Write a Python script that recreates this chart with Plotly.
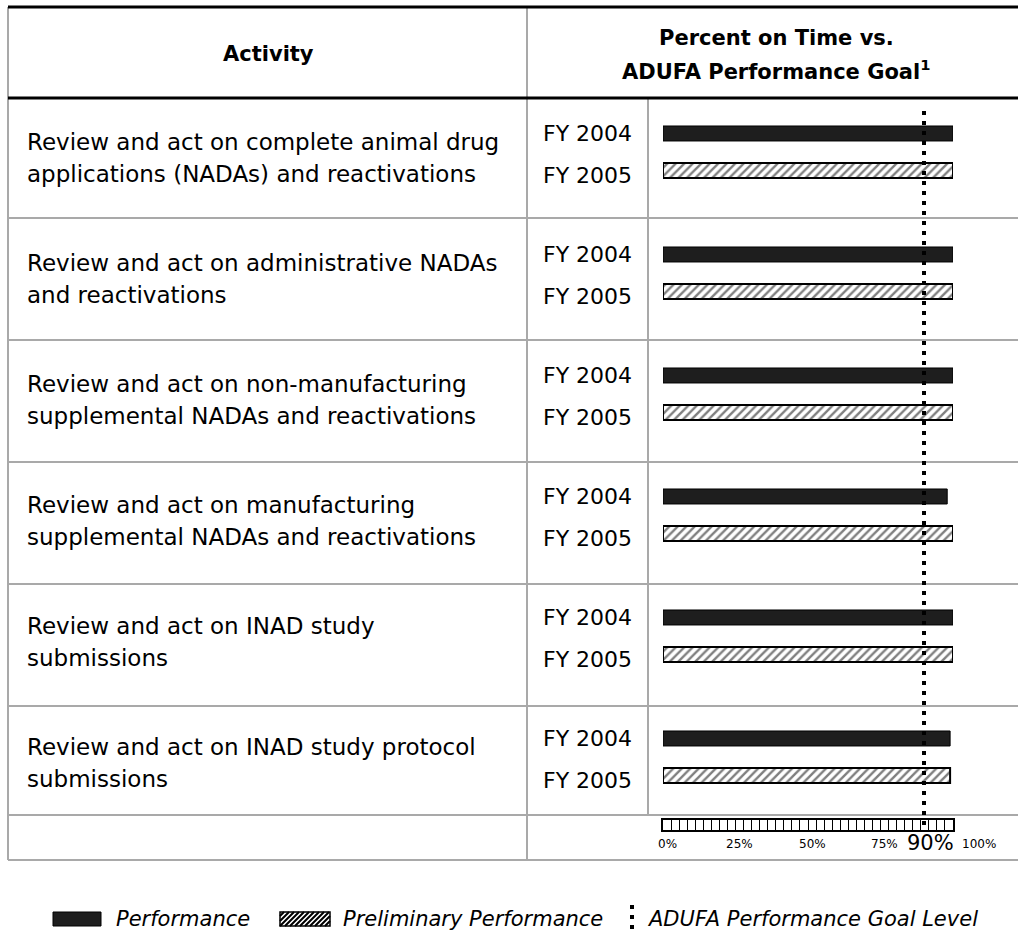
import plotly.graph_objects as go

W, H = 1018, 930

# ---- data -----------------------------------------------------------------
activities = [
    "Review and act on complete animal drug<br>applications (NADAs) and reactivations",
    "Review and act on administrative NADAs<br>and reactivations",
    "Review and act on non-manufacturing<br>supplemental NADAs and reactivations",
    "Review and act on manufacturing<br>supplemental NADAs and reactivations",
    "Review and act on INAD study<br>submissions",
    "Review and act on INAD study protocol<br>submissions",
]
fiscal_years = ["FY 2004", "FY 2005"]
performance_fy2004 = [100, 100, 100, 98, 100, 99]
preliminary_fy2005 = [100, 100, 100, 100, 100, 99]
goal_level = 90
scale_ticks = [0, 25, 50, 75, 90, 100]
scale_labels = ["0%", "25%", "50%", "75%", "90%", "100%"]
legend_labels = ["Performance", "Preliminary Performance", "ADUFA Performance Goal Level"]


# ---- helpers: page pixels -> paper fractions ------------------------------
def px(x):
    return x / W


def py(y):
    return 1 - y / H


FONT = "DejaVu Sans"
GRID = "#a9a9a9"
DOT_DASH = "4px,6px"

fig = go.Figure()

fig.add_trace(go.Bar(
    name=legend_labels[0], orientation="h",
    x=performance_fy2004, y=activities,
    marker=dict(color="#1e1e1e", line=dict(color="black", width=1)),
    showlegend=False, hoverinfo="x",
))
fig.add_trace(go.Bar(
    name=legend_labels[1], orientation="h",
    x=preliminary_fy2005, y=activities,
    marker=dict(color="white", line=dict(color="black", width=2),
                pattern=dict(shape="/", fgcolor="black", bgcolor="white",
                             size=6, solidity=0.4)),
    showlegend=False, hoverinfo="x",
))

shapes = []
annotations = []


def hline(y, x0, x1, color=GRID, width=2):
    shapes.append(dict(type="line", xref="paper", yref="paper",
                       x0=px(x0), x1=px(x1), y0=py(y), y1=py(y),
                       line=dict(color=color, width=width)))


def vline(x, y0, y1, color=GRID, width=2):
    shapes.append(dict(type="line", xref="paper", yref="paper",
                       x0=px(x), x1=px(x), y0=py(y0), y1=py(y1),
                       line=dict(color=color, width=width)))


def label(text, x, y, size, xanchor="center", xref="paper", yref="paper",
          xshift=0, yshift=0):
    annotations.append(dict(text=text, xref=xref, yref=yref, x=x, y=y,
                            xanchor=xanchor, yanchor="middle", showarrow=False,
                            xshift=xshift, yshift=yshift,
                            font=dict(size=size, family=FONT, color="black")))


# ---- table grid -----------------------------------------------------------
for y in [218, 340, 462, 584, 706, 815, 860]:
    hline(y, 8, W)
vline(8, 7, 860)
vline(527, 7, 860)
vline(648, 98, 815)
hline(7, 8, W, color="black", width=3)
hline(98, 8, W, color="black", width=3)

# ---- goal line ------------------------------------------------------------
shapes.append(dict(type="line", xref="x", yref="paper",
                   x0=goal_level, x1=goal_level, y0=py(111), y1=py(827),
                   line=dict(color="black", width=4, dash=DOT_DASH),
                   layer="above"))

# ---- header ---------------------------------------------------------------
label("<b>Activity</b>", px(268), py(54), 21)
label("<b>Percent on Time vs.</b>", px(776), py(38), 21)
label("<b>ADUFA Performance Goal<sup>1</sup></b>", px(776), py(70), 21)

# ---- activity text and fiscal year labels ---------------------------------
for act in activities:
    lines = act.split("<br>")
    for j, line in enumerate(lines):
        label(line, px(25), act, 23, xanchor="left", yref="y",
              yshift=10 if j == 0 else -22)
    for k, fy in enumerate(fiscal_years):
        label(fy, px(541), act, 22, xanchor="left", yref="y",
              yshift=19 if k == 0 else -23)

# ---- percent scale labels -------------------------------------------------
for val, lab in zip(scale_ticks, scale_labels):
    big = val == goal_level
    shift = 26 if val == 100 else (6 if big else 4)
    label(lab, val, py(843 if big else 844), 21 if big else 12, xref="x2",
          xshift=shift)

# ---- legend ---------------------------------------------------------------
ly = 919
ltop, lbot = 912, 926
shapes.append(dict(type="rect", xref="paper", yref="paper",
                   x0=px(53), x1=px(101), y0=py(lbot), y1=py(ltop),
                   fillcolor="#1e1e1e", line=dict(color="black", width=1)))
label("<i>" + legend_labels[0] + "</i>", px(114), py(ly), 21, xanchor="left")

hx0, hx1 = 280, 330
shapes.append(dict(type="rect", xref="paper", yref="paper",
                   x0=px(hx0), x1=px(hx1), y0=py(lbot), y1=py(ltop),
                   fillcolor="white", line=dict(color="black", width=1.5)))
path = ""
c = hx0 + ltop + 4
while c < hx1 + lbot:
    # segment of x + y = c clipped to the swatch rectangle
    xa = max(hx0, c - lbot)
    xb = min(hx1, c - ltop)
    if xb > xa:
        path += f"M{px(xa)},{py(c - xa)} L{px(xb)},{py(c - xb)} "
    c += 5
shapes.append(dict(type="path", xref="paper", yref="paper", path=path,
                   line=dict(color="black", width=2)))
label("<i>" + legend_labels[1] + "</i>", px(341), py(ly), 21, xanchor="left")

shapes.append(dict(type="line", xref="paper", yref="paper",
                   x0=px(632), x1=px(632), y0=py(905), y1=py(930),
                   line=dict(color="black", width=4, dash=DOT_DASH)))
label("<i>" + legend_labels[2] + "</i>", px(645), py(ly), 21, xanchor="left")

fig.update_layout(
    width=W, height=H,
    margin=dict(l=0, r=0, t=0, b=0),
    paper_bgcolor="white", plot_bgcolor="rgba(0,0,0,0)",
    font=dict(family=FONT, color="black"),
    barmode="group", bargap=0.388, bargroupgap=0.595,
    showlegend=False,
    xaxis=dict(domain=[px(663), px(953)], range=[0, 100], visible=False,
               fixedrange=True),
    yaxis=dict(domain=[py(817.5), py(91.5)], type="category",
               range=[5.5, -0.5], visible=False, fixedrange=True),
    xaxis2=dict(domain=[px(663), px(953)], range=[0, 100], anchor="y2",
                showline=True, mirror=True, linecolor="black", linewidth=2,
                ticks="inside", tickmode="linear", tick0=0, dtick=100 / 36,
                ticklen=10, tickwidth=1, tickcolor="black",
                showticklabels=False, showgrid=False, zeroline=False,
                fixedrange=True),
    yaxis2=dict(domain=[py(830), py(820)], range=[0, 1], anchor="x2",
                showline=True, mirror=True, linecolor="black", linewidth=2,
                showticklabels=False, showgrid=False, zeroline=False,
                ticks="", fixedrange=True),
    shapes=shapes,
    annotations=annotations,
)

fig.write_html("out.html", config=dict(displayModeBar=False))
